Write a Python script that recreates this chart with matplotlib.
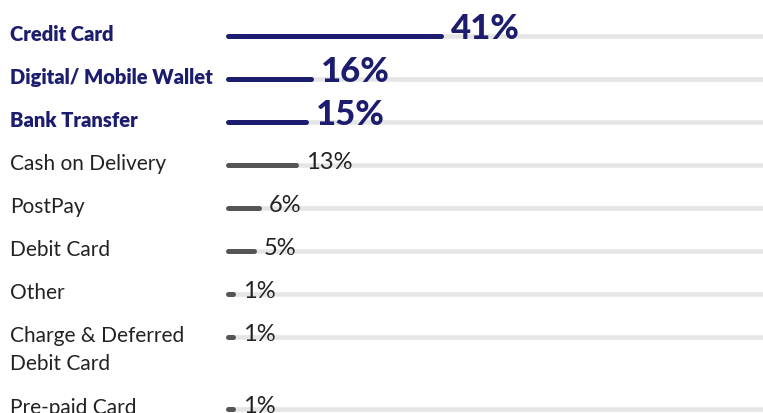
import matplotlib.pyplot as plt

categories = ["Credit Card", "Digital/ Mobile Wallet", "Bank Transfer", "Cash on Delivery",
              "PostPay", "Debit Card", "Other", "Charge & Deferred\nDebit Card", "Pre-paid Card"]
shares = [41, 16, 15, 13, 6, 5, 1, 1, 1]
top_three = [True, True, True, False, False, False, False, False, False]

NAVY = "#1d1d6f"
GREY = "#555555"
TRACK = "#e5e5e5"

W, H = 763, 414
x0 = 228      # pixel where bars start
px = 5.2      # pixels per percent

fig = plt.figure(figsize=(W / 100, H / 100), dpi=100)
ax = fig.add_axes([0, 0, 1, 1])
ax.set_xlim(-x0 / px, (W - x0) / px)
ax.set_ylim(H, 0)
ax.axis("off")

y = 37
for name, val, hl in zip(categories, shares, top_three):
    col = NAVY if hl else GREY
    ax.plot([0, (W - x0) / px + 5], [y, y], color=TRACK, lw=3.3,
            solid_capstyle="butt", zorder=1)
    ax.plot([0, val], [y, y], color=col, lw=3.6, solid_capstyle="round", zorder=2)

    # label, one line at a time so the first line sits on the bar row
    for i, line in enumerate(name.split("\n")):
        ax.annotate(line, xy=(-x0 / px, y), xytext=(10, -4 - 28 * i),
                    textcoords="offset pixels", ha="left", va="baseline",
                    fontsize=14.5 if hl else 15, family="Lato",
                    fontweight="heavy" if hl else "normal",
                    color=NAVY if hl else "#222222")
    if hl:
        ax.annotate(f"{val}%", xy=(val, y), xytext=(10, -2), textcoords="offset pixels",
                    ha="left", va="baseline", fontsize=25, family="Lato",
                    fontweight="black", color=NAVY)
    else:
        ax.annotate(f"{val}%", xy=(val, y), xytext=(10, -3), textcoords="offset pixels",
                    ha="left", va="baseline", fontsize=17, family="Lato",
                    color="#222222")
    y += 43
    if "\n" in name:
        y += 29

fig.savefig("out.png", dpi=100)
